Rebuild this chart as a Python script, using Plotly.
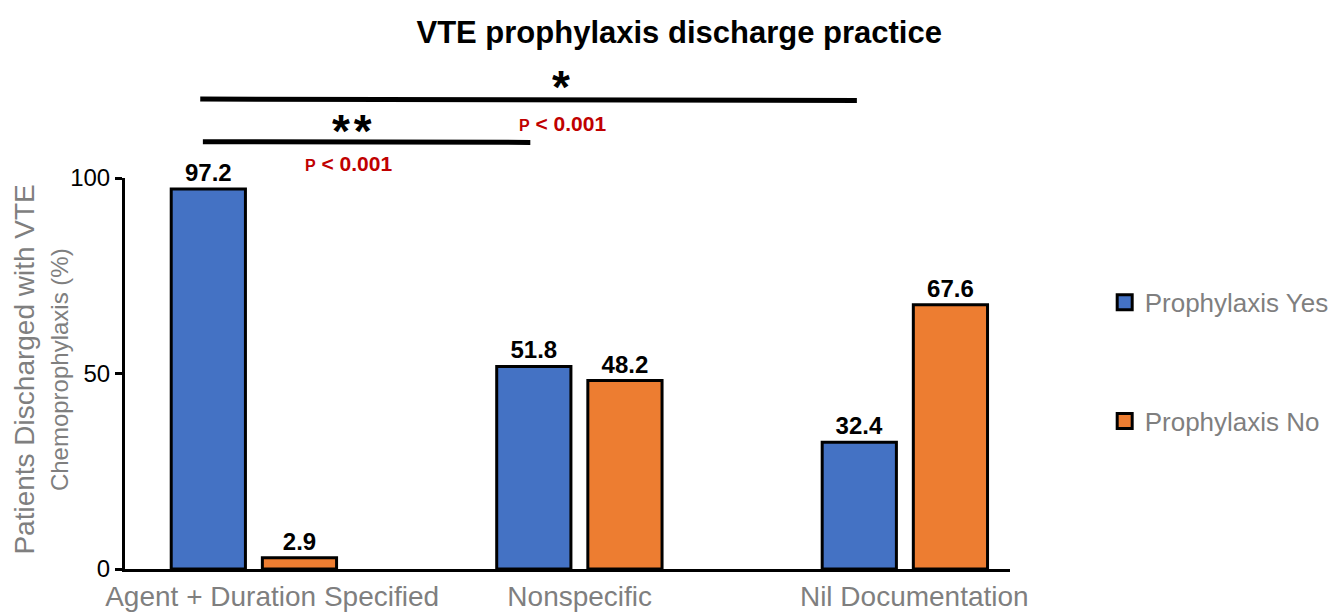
import plotly.graph_objects as go

categories = ["Agent + Duration Specified", "Nonspecific", "Nil Documentation"]
cat_pos = [0, 1, 2]
yes_vals = [97.2, 51.8, 32.4]
no_vals = [2.9, 48.2, 67.6]
series_names = ["Prophylaxis Yes", "Prophylaxis No"]
y_ticks = [0, 50, 100]
sig_labels = ["*", "*\u200a*"]
p_labels = [("P", "< 0.001"), ("P", "< 0.001")]

BLUE = "#4472C4"
ORANGE = "#ED7D31"
GRAY = "#7f7f7f"
RED = "#C00000"
SANS = "Liberation Sans, Arial, Helvetica"

# small horizontal nudges of the category labels (layout only)
label_nudge = [0.055, 0.0, 0.028]
label_pos = [p + n for p, n in zip(cat_pos, label_nudge)]

fig = go.Figure()
bw = 0.228
for name, vals, col, off, grp in [
    (series_names[0], yes_vals, BLUE, -0.255, "a"),
    (series_names[1], no_vals, ORANGE, 0.025, "b"),
]:
    fig.add_trace(go.Bar(
        x=cat_pos, y=vals, name=name, width=bw, offset=off,
        marker=dict(color=col, line=dict(color="black", width=3)),
        text=[f"{v:.1f}" for v in vals], textposition="outside",
        textfont=dict(family=SANS, size=24, color="black", weight="bold"),
        cliponaxis=False, showlegend=False,
    ))
    # legend entry with a larger square symbol
    fig.add_trace(go.Scatter(
        x=[None], y=[None], mode="markers", name=name, legendgroup=grp,
        marker=dict(symbol="square", size=15, color=col,
                    line=dict(color="black", width=3)),
    ))

fig.update_layout(
    width=1336, height=612,
    paper_bgcolor="white", plot_bgcolor="white",
    margin=dict(l=117, r=334, t=170, b=51, autoexpand=False),
    title=dict(text="<b>VTE prophylaxis discharge practice</b>", x=0.5024, xanchor="center",
               y=0.961, yanchor="middle",
               font=dict(family=SANS, size=31, color="black")),
    xaxis=dict(range=[-0.397, 2.322], tickvals=label_pos, ticktext=categories,
               showline=True, linecolor="black", linewidth=3, ticks="",
               showgrid=False, zeroline=False, automargin=False,
               tickfont=dict(family=SANS, size=28, color=GRAY)),
    yaxis=dict(range=[0, 100], tickvals=y_ticks, showline=True, linecolor="black",
               linewidth=3, ticks="outside", ticklen=7, tickwidth=3, tickcolor="black",
               showgrid=False, zeroline=False, automargin=False,
               tickfont=dict(family=SANS, size=24, color="black")),
    showlegend=True,
    legend=dict(x=1.107, y=0.53, xanchor="left", yanchor="middle",
                font=dict(family=SANS, size=26, color=GRAY),
                tracegroupgap=82, bgcolor="rgba(0,0,0,0)"),
)

# y-axis title (two lines, different sizes)
fig.add_annotation(text="Patients Discharged with VTE", xref="paper", yref="paper",
                   x=-0.113, y=0.51, textangle=-90, showarrow=False,
                   xanchor="center", yanchor="middle",
                   font=dict(family=SANS, size=28, color=GRAY))
fig.add_annotation(text="Chemoprophylaxis (%)", xref="paper", yref="paper",
                   x=-0.074, y=0.51, textangle=-90, showarrow=False,
                   xanchor="center", yanchor="middle",
                   font=dict(family=SANS, size=24, color=GRAY))

# significance brackets
fig.add_shape(type="line", xref="paper", yref="paper", x0=0.085, x1=0.827,
              y0=1.202, y1=1.198, line=dict(color="black", width=5))
fig.add_shape(type="line", xref="paper", yref="paper", x0=0.088, x1=0.458,
              y0=1.093, y1=1.091, line=dict(color="black", width=5))
fig.add_annotation(text=f"<b>{sig_labels[0]}</b>", xref="paper", yref="paper",
                   x=0.493, y=1.304, showarrow=False, xanchor="center", yanchor="top",
                   height=36, valign="top",
                   font=dict(family=SANS, size=46, color="black"))
fig.add_annotation(text=f"<b>{sig_labels[1]}</b>", xref="paper", yref="paper",
                   x=0.256, y=1.192, showarrow=False, xanchor="center", yanchor="top",
                   height=34, valign="top",
                   font=dict(family=SANS, size=46, color="black"))


def ptext(p):
    return (f"<b><span style='font-size:16px'>{p[0]}</span> {p[1]}</b>")


fig.add_annotation(text=ptext(p_labels[0]), xref="paper", yref="paper",
                   x=0.494, y=1.14, showarrow=False, xanchor="center", yanchor="middle",
                   font=dict(family=SANS, size=21, color=RED))
fig.add_annotation(text=ptext(p_labels[1]), xref="paper", yref="paper",
                   x=0.252, y=1.036, showarrow=False, xanchor="center", yanchor="middle",
                   font=dict(family=SANS, size=21, color=RED))

fig.write_html("out.html")
